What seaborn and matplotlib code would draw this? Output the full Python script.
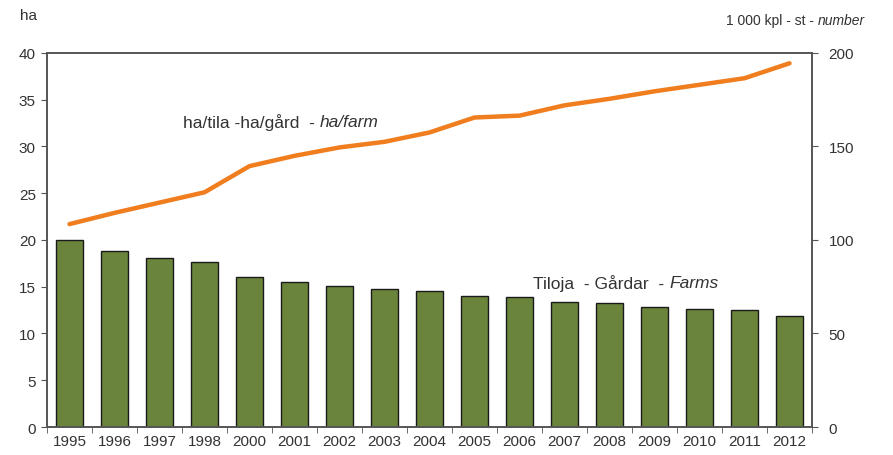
import numpy as np
import pandas as pd
import matplotlib
matplotlib.use('Agg')
import matplotlib.pyplot as plt
import seaborn as sns

years = ['1995', '1996', '1997', '1998', '2000', '2001', '2002', '2003', '2004',
         '2005', '2006', '2007', '2008', '2009', '2010', '2011', '2012']
farms = [100.0, 94.3, 90.2, 88.1, 80.4, 77.7, 75.4, 74.0, 72.9,
         69.9, 69.3, 67.0, 66.3, 64.3, 62.9, 62.4, 59.4]
ha_per_farm = [21.7, 22.9, 24.0, 25.1, 27.9, 29.0, 29.9, 30.5, 31.5,
               33.1, 33.3, 34.4, 35.1, 35.9, 36.6, 37.3, 38.9]

df = pd.DataFrame({'year': years, 'farms': farms, 'ha': ha_per_farm})

sns.set_style('ticks')
plt.rcParams['font.family'] = ['Liberation Sans', 'DejaVu Sans']

bar_col = '#6b843c'
line_col = '#f07d1e'
txt_col = '#333333'
spine_col = '#555555'

fig = plt.figure(figsize=(8.93, 4.56), dpi=100)
ax = fig.add_axes([0.0526, 0.0614, 0.8567, 0.8202])
ax2 = ax.twinx()

# bars (farms, thousands) on right axis
sns.barplot(data=df, x='year', y='farms', ax=ax2, color=bar_col, width=0.6,
            edgecolor='#1a1a1a', linewidth=1.0, saturation=1)
# line (ha/farm) on left axis
sns.lineplot(data=df, x='year', y='ha', ax=ax, color=line_col, linewidth=3.2,
             sort=False)

ax.set_zorder(ax2.get_zorder() + 1)
ax.patch.set_visible(False)

ax.set_ylim(0, 40)
ax2.set_ylim(0, 200)
ax.set_xlim(-0.5, len(years) - 0.5)
ax.set_yticks(np.arange(0, 41, 5))
ax2.set_yticks(np.arange(0, 201, 50))
ax.set_xticks(range(len(years)))
ax.set_xticklabels(years)
ax.set_xticks(np.arange(-0.5, len(years), 1), minor=True)

ax.set_xlabel('')
ax.set_ylabel('')
ax2.set_xlabel('')
ax2.set_ylabel('')

ax.tick_params(axis='x', which='major', length=0, labelsize=11, colors=txt_col, pad=5)
ax.tick_params(axis='x', which='minor', length=4, color=spine_col, direction='out')
ax.tick_params(axis='y', length=4, labelsize=11, colors=txt_col, color=spine_col, pad=4)
ax2.tick_params(axis='y', length=4, labelsize=11, colors=txt_col, color=spine_col, pad=8)
ax2.tick_params(axis='x', length=0, labelbottom=False)

for a in (ax, ax2):
    for s in a.spines.values():
        s.set_visible(True)
        s.set_color(spine_col)
        s.set_linewidth(1.2)


def mixed(x, y, plain, italic, size, coords):
    # plain part followed by an italic part
    t1 = ax.text(x, y, plain, fontsize=size, color=txt_col, va='center',
                 transform=coords)
    ax.annotate(italic, xy=(1, 0.5), xycoords=t1, va='center', ha='left',
                fontsize=size, color=txt_col, style='italic')
    return t1


fig.text(0.022, 0.965, 'ha', fontsize=11, color=txt_col, va='center')
mixed(0.813, 0.955, '1 000 kpl - st - ', 'number', 10, fig.transFigure)
mixed(2.52, 32.7, 'ha/tila -ha/gård  - ', 'ha/farm', 12.5, ax.transData)
mixed(10.3, 15.5, 'Tiloja  - Gårdar  - ', 'Farms', 12.5, ax.transData)

fig.savefig('out.png', dpi=100)
